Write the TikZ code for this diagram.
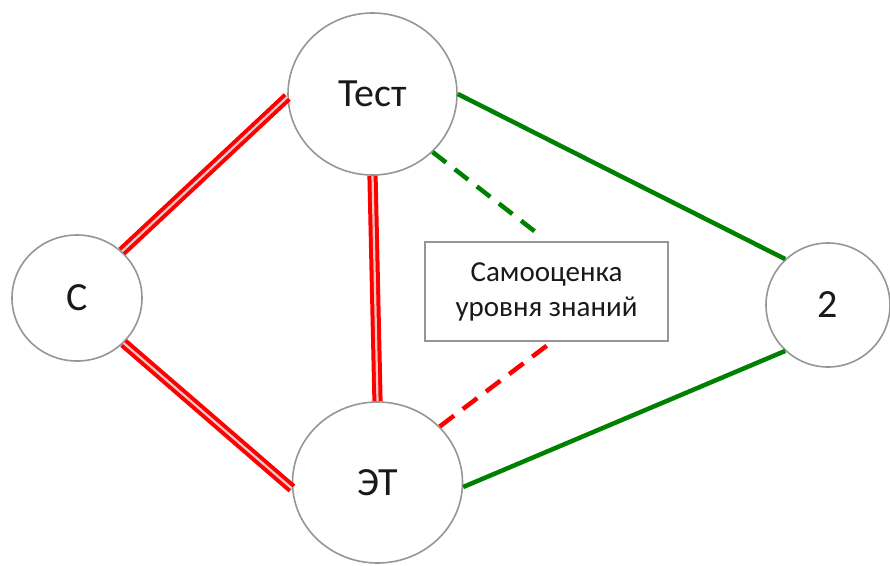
\documentclass[tikz,border=0pt]{standalone}
\usepackage{fontspec}
\setmainfont{Carlito}
\usetikzlibrary{shapes.geometric}
\definecolor{circgray}{RGB}{150,150,150}
\definecolor{edgegreen}{RGB}{0,128,0}
\definecolor{edgered}{RGB}{255,0,0}
\definecolor{gapred}{RGB}{235,200,200}
\tikzset{
  circ/.style={ellipse, draw=circgray, line width=1.6pt, fill=white, inner sep=0pt,
    font=\fontsize{40}{48}\selectfont, text=black!90},
  infobox/.style={rectangle, draw=circgray, line width=1.4pt, fill=white,
    minimum width=243pt, minimum height=99pt, align=center, inner sep=0pt,
    font=\fontsize{29}{35}\selectfont, text=black!90},
  redlink/.style={draw=edgered, line width=4pt, double=gapred, double distance=2.2pt},
  greenlink/.style={draw=edgegreen, line width=4.5pt},
  greendash/.style={draw=edgegreen, line width=4.5pt, dash pattern=on 17pt off 11pt},
  reddash/.style={draw=edgered, line width=4.5pt, dash pattern=on 18pt off 11pt},
}
\begin{document}
\begin{tikzpicture}[x=1pt,y=-1pt]
\useasboundingbox (0,0) rectangle (890,565);
\fill[white] (0,0) rectangle (890,565);

\node[circ, minimum width=169pt, minimum height=162pt] (test) at (372.5,94) {Тест};
\node[circ, minimum width=170pt, minimum height=161pt] (et) at (377.5,482.5) {ЭТ};
\node[circ, minimum width=130pt, minimum height=126pt] (c) at (77,298) {С};
\node[circ, minimum width=124pt, minimum height=124pt] (two) at (828,305) {2};
\node[infobox] (box) at (546.5,291.5) {Самооценка\\уровня знаний};

\coordinate (gend) at (542,237);
\coordinate (rend) at (553,341);

\draw[redlink] (c.46) -- (test.182);
\draw[redlink] (c.-44) -- (et.184);
\draw[redlink] (test.south) -- (et.north);
\draw[greenlink] (test.0) -- (two.133);
\draw[greenlink] (et.-3) -- (two.227);
\draw[greendash] (test.-44) -- (gend);
\draw[reddash] (et.42) -- (rend);
\end{tikzpicture}
\end{document}
